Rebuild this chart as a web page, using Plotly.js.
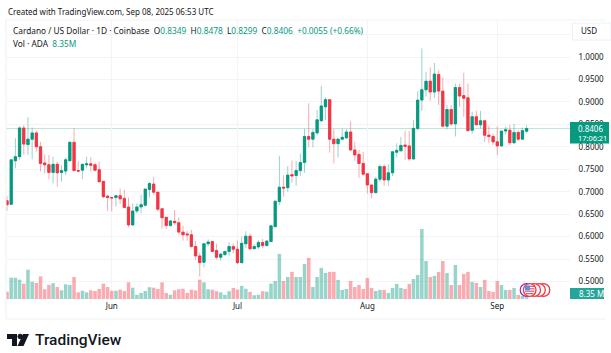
<!DOCTYPE html>
<html><head><meta charset="utf-8">
<script src="https://cdn.plot.ly/plotly-3.0.1.min.js"></script>
<style>html,body{margin:0;padding:0;background:#fff}#c{width:611px;height:353px}</style></head>
<body><div id="c"></div>
<script>
const startDate = '2025-05-07';
const open = [.680,.672,.769,.778,.842,.805,.817,.831,.800,.764,.760,.743,.761,.743,.746,.769,.810,.747,.748,.760,.762,.760,.749,.723,.690,.687,.687,.691,.685,.666,.626,.657,.666,.670,.705,.717,.699,.662,.643,.625,.634,.631,.610,.606,.604,.578,.557,.543,.584,.589,.569,.554,.560,.567,.578,.572,.542,.584,.601,.573,.577,.587,.580,.589,.622,.678,.710,.709,.738,.736,.747,.765,.823,.817,.831,.858,.889,.905,.817,.807,.817,.820,.833,.793,.783,.763,.740,.715,.698,.728,.756,.726,.742,.788,.791,.804,.802,.773,.841,.904,.927,.946,.922,.961,.924,.846,.883,.851,.932,.914,.909,.837,.867,.849,.858,.826,.823,.811,.802,.835,.837,.809,.832,.817,.8349];
const high = [.690,.771,.819,.846,.849,.866,.843,.836,.811,.783,.782,.778,.767,.759,.776,.812,.841,.768,.761,.778,.777,.765,.767,.723,.693,.688,.693,.707,.704,.687,.674,.674,.693,.706,.722,.732,.699,.662,.644,.637,.659,.643,.624,.612,.615,.590,.564,.585,.594,.591,.584,.563,.568,.587,.585,.591,.600,.612,.607,.583,.592,.595,.592,.624,.679,.780,.737,.757,.769,.769,.785,.840,.897,.839,.882,.936,.910,.905,.839,.820,.840,.839,.857,.811,.793,.789,.741,.716,.733,.761,.761,.761,.789,.808,.822,.836,.835,.860,.924,1.019,.967,.977,.987,.970,.955,.893,.893,.941,.941,.965,.941,.878,.880,.880,.858,.847,.829,.846,.836,.846,.849,.851,.837,.843,.8478];
const low = [.657,.671,.752,.771,.783,.782,.772,.789,.745,.741,.728,.719,.711,.722,.737,.768,.746,.743,.728,.752,.745,.745,.722,.685,.657,.656,.667,.673,.663,.621,.624,.652,.652,.667,.687,.693,.656,.618,.617,.622,.626,.604,.591,.591,.575,.548,.511,.532,.578,.566,.549,.546,.557,.557,.563,.539,.540,.574,.570,.572,.572,.574,.578,.589,.622,.670,.689,.700,.720,.713,.735,.742,.799,.799,.826,.856,.860,.787,.763,.776,.815,.817,.791,.769,.731,.736,.696,.685,.696,.722,.713,.713,.735,.776,.791,.771,.769,.771,.837,.880,.912,.903,.909,.893,.845,.839,.846,.823,.889,.867,.834,.829,.848,.841,.811,.808,.804,.782,.800,.828,.804,.806,.813,.817,.8299];
const close = [.671,.771,.778,.842,.806,.817,.831,.800,.763,.760,.743,.761,.742,.747,.771,.810,.747,.746,.761,.762,.759,.748,.722,.689,.687,.686,.691,.684,.665,.626,.657,.666,.671,.706,.718,.699,.661,.642,.625,.635,.631,.610,.604,.604,.578,.557,.542,.584,.588,.567,.554,.561,.567,.578,.572,.542,.585,.601,.573,.578,.587,.580,.590,.624,.679,.710,.708,.737,.735,.747,.765,.823,.817,.832,.860,.891,.905,.817,.807,.817,.821,.833,.793,.782,.763,.739,.715,.698,.728,.756,.726,.742,.789,.792,.803,.801,.773,.841,.904,.927,.946,.922,.962,.924,.846,.883,.851,.932,.913,.908,.836,.867,.849,.858,.826,.823,.811,.802,.835,.838,.809,.832,.817,.836,.8406];
const volumeM = [33,96,96,87,69,132,78,72,102,44,64,71,54,39,66,63,99,30,37,30,39,36,45,69,54,37,37,42,36,75,51,19,27,36,53,51,45,75,27,19,39,44,46,27,42,39,87,75,44,42,35,30,19,35,50,42,59,46,32,17,19,35,33,69,81,203,81,99,122,99,99,158,185,54,99,140,117,122,122,86,41,45,81,54,63,45,95,50,36,41,41,27,50,68,50,45,68,90,108,315,171,99,104,122,171,117,63,153,63,113,122,77,72,54,86,36,32,81,63,41,41,50,18,14,8.35];
const priceTicks = [0.5,0.55,0.6,0.65,0.7,0.75,0.8,0.85,0.9,0.95,1.0];
const monthTicks = ['2025-06-01','2025-07-01','2025-08-01','2025-09-01'];
const monthLabels = ['Jun','Jul','Aug','Sep'];
const lastPrice = 0.8406;

const GREEN='#089981', RED='#F23645', W=611, H=353;
const FONT='"Noto Sans", sans-serif';
const dates = open.map((_,i)=>{const d=new Date(startDate+'T00:00:00Z');d.setUTCDate(d.getUTCDate()+i);return d.toISOString().slice(0,10);});
const up = open.map((o,i)=>close[i]>=o);
const L={l:6,r:41,t:20,b:53};
const fx=x=>(x-L.l)/(W-L.l-L.r), fy=y=>1-(y-L.t)/(H-L.t-L.b);
const rect=(x0,y0,x1,y1,fill)=>({type:'rect',xref:'paper',yref:'paper',x0:fx(x0),x1:fx(x1),y0:fy(y0),y1:fy(y1),fillcolor:fill,line:{width:0},layer:'above'});
const circ=(cx,cy,r,fill,line,w)=>({type:'circle',xref:'paper',yref:'paper',x0:fx(cx-r),x1:fx(cx+r),y0:fy(cy+r),y1:fy(cy-r),fillcolor:fill,line:{color:line,width:w||1},layer:'above'});
const path=(pts,fill)=>({type:'path',xref:'paper',yref:'paper',path:'M'+pts.map(p=>fx(p[0])+','+fy(p[1])).join('L')+'Z',fillcolor:fill,line:{width:0},layer:'above'});
const txt=(x,y,t,size,color,anchor,weight,family)=>({xref:'paper',yref:'paper',x:fx(x),y:fy(y),text:t,showarrow:false,xanchor:anchor||'left',yanchor:'middle',font:{family:family||FONT,size:size,color:color||'#131722',weight:weight||400}});

const wick = {type:'candlestick',x:dates,open,high,low,close,xaxis:'x',yaxis:'y',hoverinfo:'skip',whiskerwidth:0,
  increasing:{line:{color:'rgba(8,153,129,0.42)',width:1},fillcolor:GREEN},
  decreasing:{line:{color:'rgba(242,54,69,0.42)',width:1},fillcolor:RED}};
const bodyHigh=open.map((o,i)=>Math.max(o,close[i])), bodyLow=open.map((o,i)=>Math.min(o,close[i]));
const body = {type:'candlestick',x:dates,open,high:bodyHigh,low:bodyLow,close,xaxis:'x',yaxis:'y',hoverinfo:'skip',whiskerwidth:0,
  increasing:{line:{color:GREEN,width:0.6},fillcolor:GREEN},
  decreasing:{line:{color:RED,width:0.6},fillcolor:RED}};
const vol = {type:'bar',x:dates,y:volumeM,yaxis:'y2',xaxis:'x',hoverinfo:'skip',
  marker:{color:up.map(u=>u?'rgba(8,153,129,0.42)':'rgba(242,54,69,0.42)'),line:{width:0}}};

const shapes=[
  {type:'line',xref:'paper',yref:'y',x0:0,x1:1,y0:1.05,y1:1.05,line:{color:'#f3f4f7',width:1},layer:'below'},
  {type:'line',xref:'paper',yref:'y',x0:0,x1:1,y0:lastPrice,y1:lastPrice,line:{color:'rgba(8,153,129,0.28)',width:1},layer:'below'},
  {type:'line',xref:'paper',yref:'paper',x0:fx(6),x1:fx(6),y0:fy(20),y1:fy(319),line:{color:'#eef0f5',width:1},layer:'above'},
  {type:'line',xref:'paper',yref:'paper',x0:fx(6),x1:fx(606),y0:fy(20),y1:fy(20),line:{color:'#f0f2f6',width:1},layer:'above'},
  {type:'line',xref:'paper',yref:'paper',x0:fx(6),x1:fx(606),y0:fy(319),y1:fy(319),line:{color:'#f0f2f6',width:1},layer:'above'},
  {type:'rect',xref:'paper',yref:'paper',x0:fx(572.5),x1:fx(611),y0:fy(23),y1:fy(40),fillcolor:'#fff',line:{color:'#eef0f4',width:1},layer:'above'},
  rect(570,122,609,143.5,GREEN),
  rect(570,288,604,299,'#26a69a'),
  // calendar event markers
  circ(526.5,290,6.3,'#fff','#9c27b0',1.2),
  circ(543.5,290,6.3,'#fff',RED,1.3),
  circ(539,290,6.3,'#fff',RED,1.3),
  circ(534.2,290,6.3,'#fff',RED,1.3),
  circ(529.7,290,6.3,'#fff',RED,1.3),
  rect(525.5,285.8,534.5,287,'#f4525e'),rect(525,288.2,534.5,289.4,'#f4525e'),rect(525,290.6,534.5,291.8,'#f4525e'),rect(526,293,533.5,294.2,'#f4525e'),
  rect(525,285.5,530,290.3,'#4f94e6'),
  // logo
  path([[7,334],[17,334],[17,346],[12,346],[12,339],[7,339]],'#131722'),
  circ(20.2,336.5,2.3,'#131722','#131722'),
  path([[23,334],[29,334],[23.5,346],[17.5,346]],'#131722'),
];
const O=c=>`<span style="color:${GREEN}">${c}</span>`;
const annotations=[
  txt(6,11,'Created with TradingView.com, Sep 08, 2025 06:53 UTC',8,'#131722'),
  txt(11,31,`Cardano / US Dollar · 1D · Coinbase  O${O('0.8349')}  H${O('0.8478')}  L${O('0.8299')}  C${O('0.8406')}  ${O('+0.0055 (+0.66%)')}`,8.3,'#131722'),
  txt(11,43,`Vol · ADA  ${O('8.35M')}`,8.3,'#131722'),
  txt(579,31,'USD',8,'#131722'),
  txt(576,128.5,'0.8406',8,'#ffffff'),
  txt(576,138,'17:06:21',7.4,'#ffffff'),
  txt(577,293.5,'8.35 M',8,'#ffffff'),
  txt(33,340,'TradingView',15.5,'#131722','left',500,'Roboto'),
];
const data=[vol,wick,body];
const layout={width:W,height:H,margin:L,paper_bgcolor:'#fff',plot_bgcolor:'#fff',showlegend:false,bargap:0.16,boxgap:0.2,boxmode:'overlay',
  xaxis:{type:'date',range:['2025-05-06 18:15','2025-09-18 08:30'],tickvals:monthTicks,ticktext:monthLabels,showgrid:true,gridcolor:'#f3f4f7',gridwidth:1,zeroline:false,showline:false,ticks:'',rangeslider:{visible:false},tickfont:{family:FONT,size:8,color:'#131722'},fixedrange:true},
  yaxis:{side:'right',range:[0.4588,1.0824],tickvals:priceTicks,tickformat:'.4f',showgrid:true,gridcolor:'#f3f4f7',gridwidth:1,zeroline:false,showline:false,ticks:'outside',ticklen:6,tickcolor:'rgba(0,0,0,0)',tickfont:{family:FONT,size:8,color:'#131722'},fixedrange:true},
  yaxis2:{overlaying:'y',domain:[0,1],range:[-4.5,1255.5],visible:false,fixedrange:true},
  shapes,annotations};
Plotly.newPlot('c',data,layout,{displayModeBar:false,staticPlot:true});
</script></body></html>
